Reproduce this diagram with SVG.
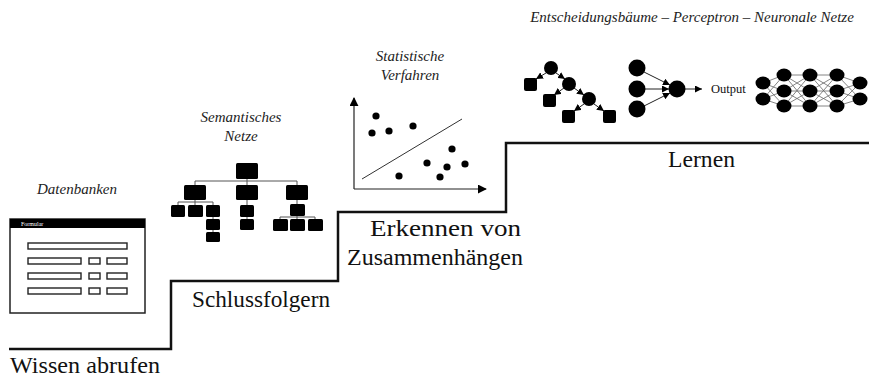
<svg xmlns="http://www.w3.org/2000/svg" width="869" height="379" viewBox="0 0 869 379">
<style>
  .lbl { font-family: "Liberation Serif", "Times New Roman", "DejaVu Serif", serif; font-size: 24px; fill: #111; }
  .it { font-family: "Liberation Serif", "Times New Roman", "DejaVu Serif", serif; font-style: italic; font-size: 15px; fill: #222; }
  .box { fill: #000; }
  .field { fill: #fff; stroke: #222; stroke-width: 1.4; }
  .thin { stroke: #555; stroke-width: 1; fill: none; }
  .net { stroke: #666; stroke-width: 0.8; fill: none; }
  .arr { stroke: #222; stroke-width: 1; fill: none; marker-end: url(#ah); }
</style>
<defs>
  <marker id="ah" viewBox="0 0 10 10" refX="10" refY="5" markerWidth="7" markerHeight="7" markerUnits="userSpaceOnUse" orient="auto">
    <path d="M0,0 L10,5 L0,10 Z" fill="#000"/>
  </marker>
  <marker id="ax" viewBox="0 0 10 10" refX="9" refY="5" markerWidth="9" markerHeight="9" markerUnits="userSpaceOnUse" orient="auto">
    <path d="M0,0 L10,5 L0,10 Z" fill="#000"/>
  </marker>
</defs>

<g id="connectors">
  <path id="staircase" d="M9,349 H171 V281 H338 V212 H506 V143 H869" fill="none" stroke="#111" stroke-width="2.5"/>
</g>

<g id="wissen-abrufen">
  <text class="lbl" x="10" y="373" textLength="150" lengthAdjust="spacingAndGlyphs">Wissen abrufen</text>
</g>

<g id="datenbanken">
  <text class="it" x="77" y="194" text-anchor="middle">Datenbanken</text>
  <rect x="10" y="219" width="135" height="94" fill="#fff" stroke="#222" stroke-width="1.5"/>
  <rect x="10" y="219" width="135" height="9" fill="#000"/>
  <text x="21" y="226" font-family="Liberation Serif, serif" font-size="6" fill="#fff">Formular</text>
  <rect class="field" x="28" y="243" width="99" height="6"/>
  <rect class="field" x="28" y="258" width="53" height="6"/>
  <rect class="field" x="89" y="258" width="11" height="6"/>
  <rect class="field" x="107" y="258" width="20" height="6"/>
  <rect class="field" x="28" y="273" width="53" height="6"/>
  <rect class="field" x="89" y="273" width="11" height="6"/>
  <rect class="field" x="107" y="273" width="20" height="6"/>
  <rect class="field" x="28" y="288" width="53" height="6"/>
  <rect class="field" x="89" y="288" width="11" height="6"/>
  <rect class="field" x="107" y="288" width="20" height="6"/>
</g>

<g id="schlussfolgern">
  <text class="lbl" x="192" y="307" textLength="138" lengthAdjust="spacingAndGlyphs">Schlussfolgern</text>
</g>

<g id="semantisches-netz">
  <text class="it" x="241" y="122" text-anchor="middle">Semantisches</text>
  <text class="it" x="241" y="141" text-anchor="middle">Netze</text>
  <path class="thin" d="M247,179 V181 M195,181 H297 M195,181 V185 M247,181 V185 M297,181 V185
    M195,200 V202 M178,202 H213 M178,202 V205 M195,202 V205 M213,202 V205 M213,217 V219 M213,230 V232
    M247,200 V205 M247,217 V219
    M297,200 V204 M297,216 V217 M280,217 H315 M280,217 V219 M297,217 V219 M315,217 V219"/>
  <rect class="box" x="236" y="163" width="22" height="16" rx="1.5"/>
  <rect class="box" x="184" y="185" width="22" height="15" rx="1.5"/>
  <rect class="box" x="236" y="185" width="22" height="15" rx="1.5"/>
  <rect class="box" x="286" y="185" width="22" height="15" rx="1.5"/>
  <rect class="box" x="171" y="205" width="14" height="12" rx="1.5"/>
  <rect class="box" x="188" y="205" width="15" height="12" rx="1.5"/>
  <rect class="box" x="206" y="205" width="14" height="12" rx="1.5"/>
  <rect class="box" x="206" y="219" width="14" height="11" rx="1.5"/>
  <rect class="box" x="206" y="232" width="14" height="10" rx="1.5"/>
  <rect class="box" x="240" y="205" width="14" height="12" rx="1.5"/>
  <rect class="box" x="240" y="219" width="14" height="11" rx="1.5"/>
  <rect class="box" x="290" y="204" width="15" height="12" rx="1.5"/>
  <rect class="box" x="273" y="219" width="15" height="12" rx="1.5"/>
  <rect class="box" x="290" y="219" width="15" height="12" rx="1.5"/>
  <rect class="box" x="308" y="219" width="15" height="12" rx="1.5"/>
</g>

<g id="erkennen">
  <text class="lbl" x="370" y="236" textLength="151" lengthAdjust="spacingAndGlyphs">Erkennen von</text>
  <text class="lbl" x="347" y="265" textLength="176" lengthAdjust="spacingAndGlyphs">Zusammenhängen</text>
</g>

<g id="statistische-verfahren">
  <text class="it" x="410" y="61" text-anchor="middle">Statistische</text>
  <text class="it" x="410" y="80" text-anchor="middle">Verfahren</text>
  <path d="M354,189 V98" stroke="#222" stroke-width="1.2" fill="none" marker-end="url(#ax)"/>
  <path d="M354,189 H486" stroke="#222" stroke-width="1.2" fill="none" marker-end="url(#ax)"/>
  <line x1="362" y1="179" x2="462" y2="119" stroke="#333" stroke-width="1"/>
  <g fill="#000">
    <circle cx="376" cy="116" r="3.6"/>
    <circle cx="372" cy="133" r="3.6"/>
    <circle cx="389" cy="131" r="3.6"/>
    <circle cx="413" cy="126" r="3.6"/>
    <circle cx="452" cy="149" r="3.6"/>
    <circle cx="427" cy="163" r="3.6"/>
    <circle cx="447" cy="167" r="3.6"/>
    <circle cx="465" cy="164" r="3.6"/>
    <circle cx="399" cy="176" r="3.6"/>
    <circle cx="440" cy="177" r="3.6"/>
  </g>
</g>

<g id="lernen">
  <text class="lbl" x="668" y="167" textLength="67" lengthAdjust="spacingAndGlyphs">Lernen</text>
</g>

<g id="titel">
  <text class="it" x="692" y="22" text-anchor="middle">Entscheidungsbäume – Perceptron – Neuronale Netze</text>
</g>

<g id="entscheidungsbaum">
  <line class="arr" x1="546" y1="73" x2="536" y2="79"/>
  <line class="arr" x1="556" y1="73" x2="565" y2="79"/>
  <line class="arr" x1="564" y1="88" x2="554" y2="95"/>
  <line class="arr" x1="574" y1="88" x2="584" y2="95"/>
  <line class="arr" x1="584" y1="104" x2="574" y2="111"/>
  <line class="arr" x1="594" y1="104" x2="604" y2="111"/>
  <circle cx="551" cy="68" r="7" fill="#000"/>
  <circle cx="569" cy="84" r="7" fill="#000"/>
  <circle cx="589" cy="99" r="7" fill="#000"/>
  <rect class="box" x="524" y="78" width="13" height="13" rx="2"/>
  <rect class="box" x="543" y="94" width="13" height="13" rx="2"/>
  <rect class="box" x="562" y="110" width="13" height="13" rx="2"/>
  <rect class="box" x="603" y="110" width="13" height="13" rx="2"/>
</g>

<g id="perceptron">
  <line class="arr" x1="644" y1="72" x2="670" y2="85"/>
  <line class="arr" x1="645" y1="89" x2="669" y2="89"/>
  <line class="arr" x1="644" y1="106" x2="670" y2="93"/>
  <line class="arr" x1="685" y1="89" x2="702" y2="89"/>
  <circle cx="637" cy="68" r="8.5" fill="#000"/>
  <circle cx="637" cy="89" r="8.5" fill="#000"/>
  <circle cx="637" cy="109" r="8.5" fill="#000"/>
  <circle cx="677" cy="89" r="8.5" fill="#000"/>
  <text x="711" y="93" font-family="Liberation Serif, serif" font-size="12.5" fill="#111">Output</text>
</g>

<g id="neuronales-netz">
  <path class="net" d="
    M763,83 L784,75 M763,83 L784,91 M763,83 L784,106 M763,99 L784,75 M763,99 L784,91 M763,99 L784,106
    M784,75 L810,75 M784,75 L810,91 M784,75 L810,106 M784,91 L810,75 M784,91 L810,91 M784,91 L810,106 M784,106 L810,75 M784,106 L810,91 M784,106 L810,106
    M810,75 L837,75 M810,75 L837,91 M810,75 L837,106 M810,91 L837,75 M810,91 L837,91 M810,91 L837,106 M810,106 L837,75 M810,106 L837,91 M810,106 L837,106
    M837,75 L860,83 M837,75 L860,99 M837,91 L860,83 M837,91 L860,99 M837,106 L860,83 M837,106 L860,99"/>
  <g fill="#000">
    <ellipse cx="763" cy="83" rx="7.5" ry="6.5"/>
    <ellipse cx="763" cy="99" rx="7.5" ry="6.5"/>
    <ellipse cx="784" cy="75" rx="7.5" ry="6.5"/>
    <ellipse cx="784" cy="91" rx="7.5" ry="6.5"/>
    <ellipse cx="784" cy="106" rx="7.5" ry="6.5"/>
    <ellipse cx="810" cy="75" rx="7.5" ry="6.5"/>
    <ellipse cx="810" cy="91" rx="7.5" ry="6.5"/>
    <ellipse cx="810" cy="106" rx="7.5" ry="6.5"/>
    <ellipse cx="837" cy="75" rx="7.5" ry="6.5"/>
    <ellipse cx="837" cy="91" rx="7.5" ry="6.5"/>
    <ellipse cx="837" cy="106" rx="7.5" ry="6.5"/>
    <ellipse cx="860" cy="83" rx="7.5" ry="6.5"/>
    <ellipse cx="860" cy="99" rx="7.5" ry="6.5"/>
  </g>
</g>
</svg>
